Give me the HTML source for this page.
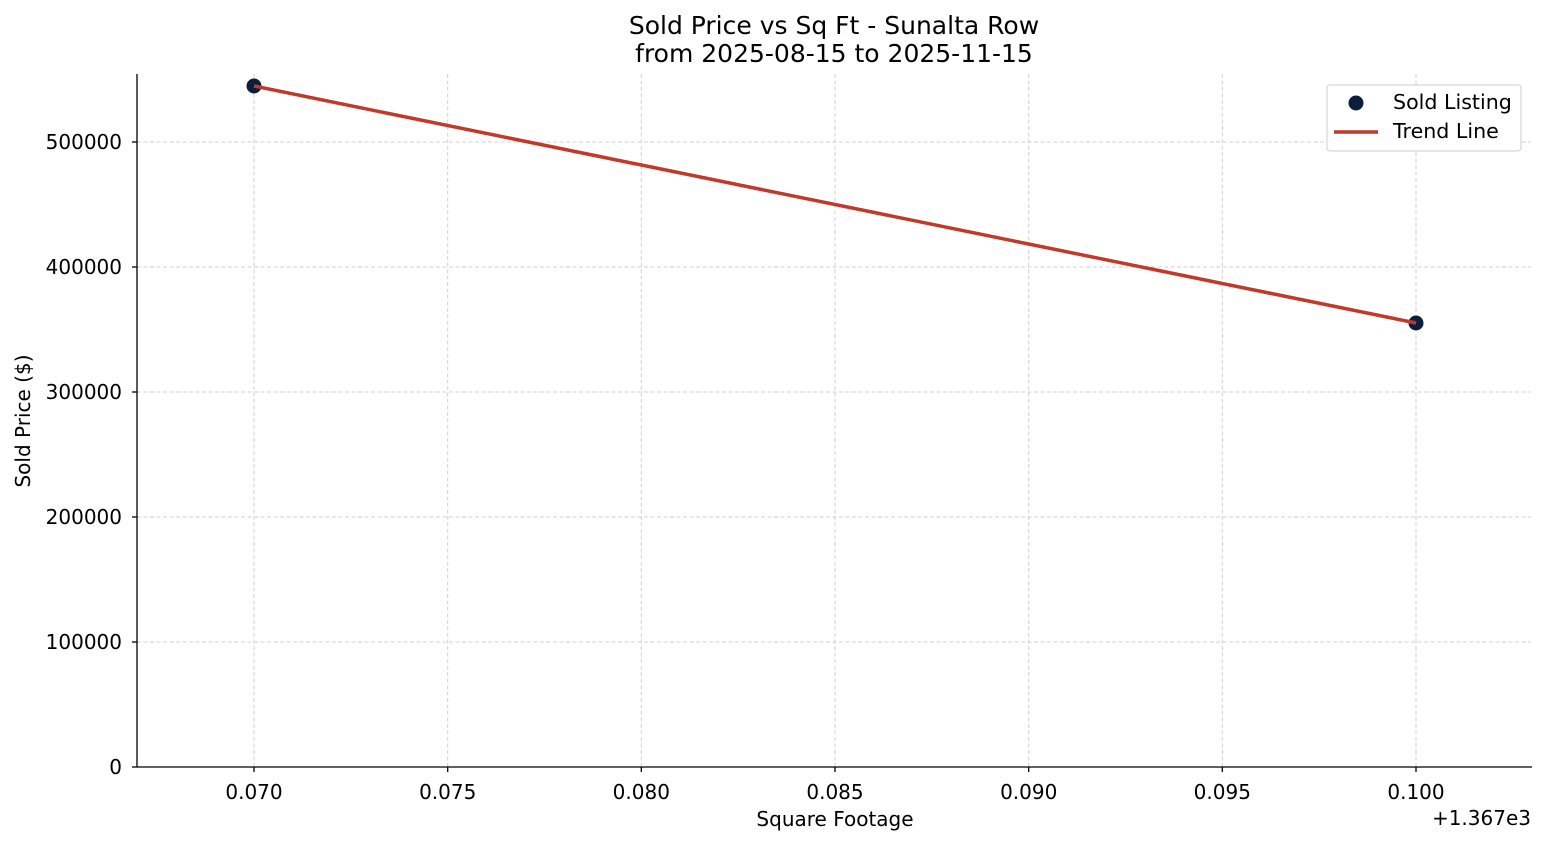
<!DOCTYPE html>
<html><head><meta charset="utf-8"><style>
html,body{margin:0;padding:0;background:#fff;}
svg{display:block;font-family:"DejaVu Sans","Liberation Sans",sans-serif;}
</style></head><body>
<svg width="1547" height="845" viewBox="0 0 1547 845" xmlns="http://www.w3.org/2000/svg">
<rect width="1547" height="845" fill="#fff"/>
<g stroke="#d0d0d0" stroke-width="1" stroke-dasharray="4,2.5">
<line x1="254" y1="74" x2="254" y2="767"/>
<line x1="447.7" y1="74" x2="447.7" y2="767"/>
<line x1="641.3" y1="74" x2="641.3" y2="767"/>
<line x1="835" y1="74" x2="835" y2="767"/>
<line x1="1028.7" y1="74" x2="1028.7" y2="767"/>
<line x1="1222.3" y1="74" x2="1222.3" y2="767"/>
<line x1="1416" y1="74" x2="1416" y2="767"/>
<line x1="137" y1="642" x2="1531" y2="642"/>
<line x1="137" y1="517" x2="1531" y2="517"/>
<line x1="137" y1="392" x2="1531" y2="392"/>
<line x1="137" y1="267" x2="1531" y2="267"/>
<line x1="137" y1="142" x2="1531" y2="142"/>
</g>
<g stroke="#000" stroke-width="1.3">
<line x1="137" y1="74" x2="137" y2="767"/>
<line x1="137" y1="767" x2="1532" y2="767"/>
<line x1="254" y1="767" x2="254" y2="772"/>
<line x1="447.7" y1="767" x2="447.7" y2="772"/>
<line x1="641.3" y1="767" x2="641.3" y2="772"/>
<line x1="835" y1="767" x2="835" y2="772"/>
<line x1="1028.7" y1="767" x2="1028.7" y2="772"/>
<line x1="1222.3" y1="767" x2="1222.3" y2="772"/>
<line x1="1416" y1="767" x2="1416" y2="772"/>
<line x1="132" y1="767" x2="137" y2="767"/>
<line x1="132" y1="642" x2="137" y2="642"/>
<line x1="132" y1="517" x2="137" y2="517"/>
<line x1="132" y1="392" x2="137" y2="392"/>
<line x1="132" y1="267" x2="137" y2="267"/>
<line x1="132" y1="142" x2="137" y2="142"/>
</g>
<g font-size="20" text-anchor="middle" fill="#000">
<text x="254" y="799">0.070</text>
<text x="447.7" y="799">0.075</text>
<text x="641.3" y="799">0.080</text>
<text x="835" y="799">0.085</text>
<text x="1028.7" y="799">0.090</text>
<text x="1222.3" y="799">0.095</text>
<text x="1416" y="799">0.100</text>
</g>
<g font-size="20" text-anchor="end" fill="#000">
<text x="122" y="774">0</text>
<text x="122" y="649">100000</text>
<text x="122" y="524">200000</text>
<text x="122" y="399">300000</text>
<text x="122" y="274">400000</text>
<text x="122" y="149">500000</text>
<text x="1531" y="825">+1.367e3</text>
</g>
<text x="835" y="826" font-size="20" text-anchor="middle">Square Footage</text>
<text transform="translate(30,421) rotate(-90)" font-size="20" text-anchor="middle">Sold Price ($)</text>
<text x="834" y="34" font-size="25" text-anchor="middle">Sold Price vs Sq Ft - Sunalta Row</text>
<text x="834" y="62" font-size="25" text-anchor="middle">from 2025-08-15 to 2025-11-15</text>
<circle cx="254" cy="86" r="7.5" fill="#0a1f3a"/>
<circle cx="1416" cy="323" r="7.5" fill="#0a1f3a"/>
<line x1="254" y1="86" x2="1416" y2="323" stroke="#c0392b" stroke-width="3.5"/>
<rect x="1327" y="85" width="194" height="66" rx="3" fill="#fff" stroke="#ccc" stroke-width="1"/>
<circle cx="1356" cy="103" r="7.5" fill="#0a1f3a"/>
<line x1="1334" y1="132" x2="1378" y2="132" stroke="#c0392b" stroke-width="3.5"/>
<text x="1393" y="109" font-size="20.6">Sold Listing</text>
<text x="1393" y="138" font-size="20.6">Trend Line</text>
</svg>
</body></html>
